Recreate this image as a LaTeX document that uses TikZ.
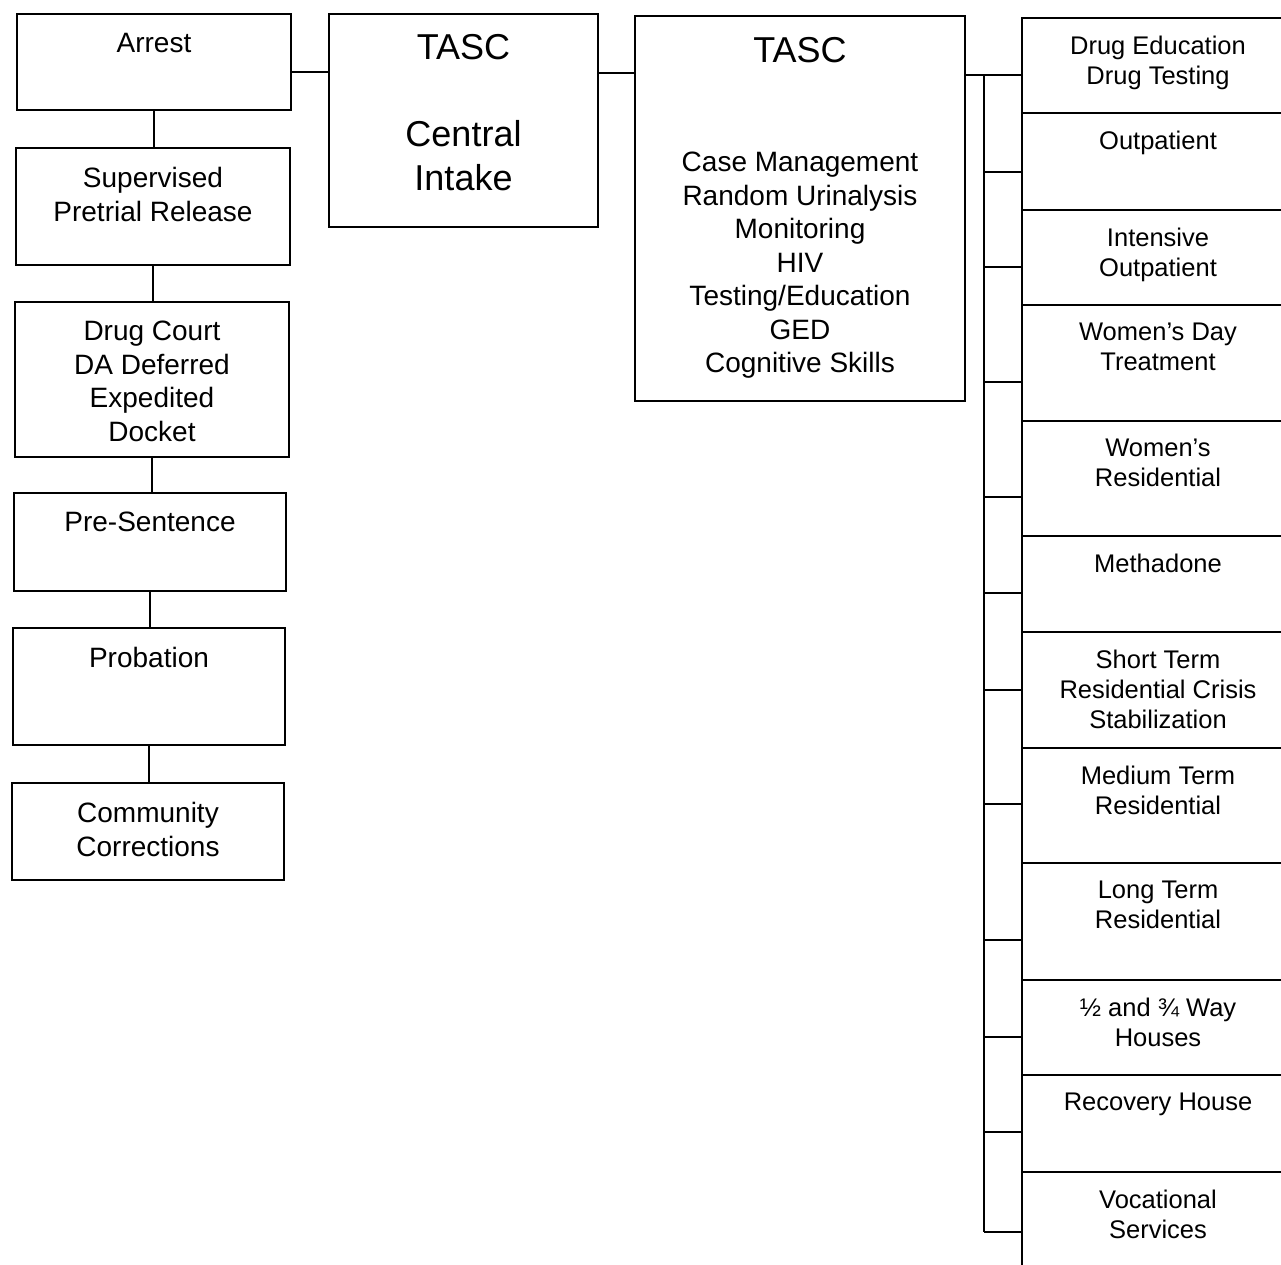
\documentclass[tikz,border=0pt]{standalone}
\usepackage{fontspec}
\setmainfont{Liberation Sans}
\begin{document}
\begin{tikzpicture}[x=1pt,y=-1pt,
  box/.style={draw, rectangle, line width=1.6pt, inner sep=0pt},
  conn/.style={line width=1.6pt},
  lt/.style={anchor=north, inner sep=0pt, align=center, font=\fontsize{28}{33.5}\selectfont},
  big/.style={anchor=north, inner sep=0pt, align=center, font=\fontsize{36}{43.5}\selectfont},
  rt/.style={anchor=north, inner sep=0pt, align=center, font=\fontsize{25.5}{30}\selectfont},
]
\useasboundingbox (0,0) rectangle (1281,1264);
\clip (0,0) rectangle (1281,1264);
% left column
\node[box, minimum width=274pt, minimum height=96pt, label={[lt,yshift=-20pt]north:Arrest}] (arrest) at (154,62) {};
\node[box, minimum width=274pt, minimum height=117pt, label={[lt,yshift=-20pt]north:Supervised\\Pretrial Release}] (superv) at (153,206.5) {};
\node[box, minimum width=274pt, minimum height=155pt, label={[lt,yshift=-20pt]north:Drug Court\\DA Deferred\\Expedited\\Docket}] (drug) at (152,379.5) {};
\node[box, minimum width=272pt, minimum height=98pt, label={[lt,yshift=-20pt]north:Pre-Sentence}] (pre) at (150,542) {};
\node[box, minimum width=272pt, minimum height=117pt, label={[lt,yshift=-20pt]north:Probation}] (prob) at (149,686.5) {};
\node[box, minimum width=272pt, minimum height=97pt, label={[lt,yshift=-20pt]north:Community\\Corrections}] (comm) at (148,831.5) {};
% TASC boxes
\node[box, minimum width=269pt, minimum height=213pt, label={[big,yshift=-21pt]north:TASC\\[43.5pt]Central\\Intake}] (central) at (463.5,120.5) {};
\node[box, minimum width=330pt, minimum height=385pt,
  label={[big,yshift=-22pt]north:TASC},
  label={[lt,yshift=-137pt]north:Case Management\\Random Urinalysis\\Monitoring\\HIV\\Testing/Education\\GED\\Cognitive Skills}] (tasc) at (800,208.5) {};
% right column
\node[box, minimum width=272pt, minimum height=95pt, label={[rt,yshift=-19pt]north:Drug Education\\Drug Testing}] (r1) at (1158,65.5) {};
\node[box, minimum width=272pt, minimum height=97pt, label={[rt,yshift=-19pt]north:Outpatient}] (r2) at (1158,161.5) {};
\node[box, minimum width=272pt, minimum height=95pt, label={[rt,yshift=-19pt]north:Intensive\\Outpatient}] (r3) at (1158,257.5) {};
\node[box, minimum width=272pt, minimum height=116pt, label={[rt,yshift=-19pt]north:Women’s Day\\Treatment}] (r4) at (1158,363) {};
\node[box, minimum width=272pt, minimum height=115pt, label={[rt,yshift=-19pt]north:Women’s\\Residential}] (r5) at (1158,478.5) {};
\node[box, minimum width=272pt, minimum height=96pt, label={[rt,yshift=-19pt]north:Methadone}] (r6) at (1158,584) {};
\node[box, minimum width=272pt, minimum height=116pt, label={[rt,yshift=-19pt]north:Short Term\\Residential Crisis\\Stabilization}] (r7) at (1158,690) {};
\node[box, minimum width=272pt, minimum height=115pt, label={[rt,yshift=-19pt]north:Medium Term\\Residential}] (r8) at (1158,805.5) {};
\node[box, minimum width=272pt, minimum height=117pt, label={[rt,yshift=-19pt]north:Long Term\\Residential}] (r9) at (1158,921.5) {};
\node[box, minimum width=272pt, minimum height=95pt, label={[rt,yshift=-19pt]north:½ and ¾ Way\\Houses}] (r10) at (1158,1027.5) {};
\node[box, minimum width=272pt, minimum height=97pt, label={[rt,yshift=-19pt]north:Recovery House}] (r11) at (1158,1123.5) {};
\node[box, minimum width=272pt, minimum height=98pt, label={[rt,yshift=-19pt]north:Vocational\\Services}] (r12) at (1158,1221) {};
% left connectors
\draw[conn] (arrest.south) -- (arrest.south |- superv.north);
\draw[conn] (superv.south) -- (superv.south |- drug.north);
\draw[conn] (drug.south) -- (drug.south |- pre.north);
\draw[conn] (pre.south) -- (pre.south |- prob.north);
\draw[conn] (prob.south) -- (prob.south |- comm.north);
% horizontal connectors
\coordinate (j1) at (0,72);
\coordinate (j2) at (0,73);
\draw[conn] (arrest.east |- j1) -- (central.west |- j1);
\draw[conn] (central.east |- j2) -- (tasc.west |- j2);
% bus
\coordinate (b1) at (984,75);
\coordinate (b2) at (984,172);
\coordinate (b3) at (984,267);
\coordinate (b4) at (984,382);
\coordinate (b5) at (984,497);
\coordinate (b6) at (984,593);
\coordinate (b7) at (984,690);
\coordinate (b8) at (984,804);
\coordinate (b9) at (984,940);
\coordinate (b10) at (984,1037);
\coordinate (b11) at (984,1132);
\coordinate (b12) at (984,1232);
\draw[conn] (tasc.east |- b1) -- (r1.west |- b1);
\draw[conn] (b1) -- (b12);
\foreach \i in {2,...,12} {\draw[conn] (b\i) -- (r\i.west |- b\i);}
\end{tikzpicture}
\end{document}
